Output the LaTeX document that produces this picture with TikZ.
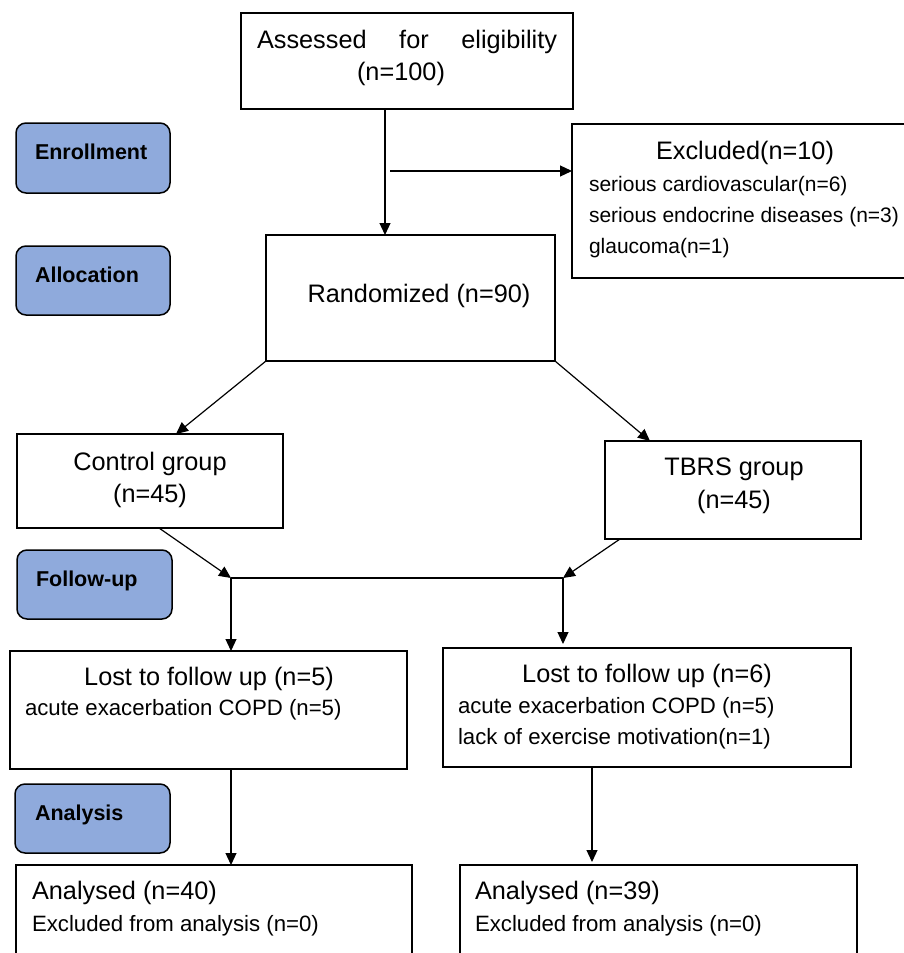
\documentclass[tikz,border=0pt]{standalone}
\usepackage{fontspec}
\setmainfont{Liberation Sans}
\usetikzlibrary{arrows.meta}
\definecolor{phaseblue}{RGB}{143,170,220}
\newcommand\ftitle{\fontsize{25.3}{30}\selectfont}
\newcommand\fsub{\fontsize{22.2}{27}\selectfont}
\newcommand\fexcl{\fontsize{21}{25}\selectfont}
\newcommand\fphase{\fontsize{21.5}{25}\selectfont\bfseries}
\tikzset{
  box/.style={draw=black, line width=1.5pt, fill=white, inner sep=0pt, outer sep=0pt, anchor=north west},
  phase/.style={draw=black, line width=1.5pt, fill=phaseblue, rounded corners=10pt, inner sep=0pt, outer sep=0pt, anchor=north west},
  txt/.style={inner sep=0pt, outer sep=0pt},
  arr/.style={line width=1.2pt, -{Triangle[length=12pt,width=11pt]}},
  ln/.style={line width=1.2pt}
}
\begin{document}
\begin{tikzpicture}[x=1pt,y=-1pt]
\useasboundingbox (0,0) rectangle (903,953);
% phase boxes
\node[phase, minimum width=154pt, minimum height=70pt] (enr) at (16,123) {};
\node[phase, minimum width=154pt, minimum height=69pt] (alloc) at (16,246) {};
\node[phase, minimum width=155pt, minimum height=69pt] (foll) at (17,550) {};
\node[phase, minimum width=155pt, minimum height=69pt] (anal) at (15,784) {};
\node[txt, anchor=base west] (enrt) at (35,159) {\fphase Enrollment};
\node[txt, anchor=base west] (alloct) at (35,282) {\fphase Allocation};
\node[txt, anchor=base west] (follt) at (36,586) {\fphase Follow-up};
\node[txt, anchor=base west] (analt) at (35,820) {\fphase Analysis};
% main boxes
\node[box, minimum width=332pt, minimum height=96pt] (assess) at (241,13) {};
\node[box, minimum width=345pt, minimum height=154pt] (excl) at (572,124) {};
\node[box, minimum width=289pt, minimum height=126pt] (rand) at (266,235) {};
\node[box, minimum width=266pt, minimum height=94pt] (ctrl) at (17,434) {};
\node[box, minimum width=256pt, minimum height=98pt] (tbrs) at (605,441) {};
\node[box, minimum width=397pt, minimum height=118pt] (lostl) at (10,651) {};
\node[box, minimum width=408pt, minimum height=119pt] (lostr) at (443,648) {};
\node[box, minimum width=396pt, minimum height=110pt] (anall) at (16,865) {};
\node[box, minimum width=397pt, minimum height=110pt] (analr) at (460,865) {};
% texts
\node[txt, anchor=base west] (assesst1) at (257,48) {\ftitle\makebox[300pt][s]{Assessed\hfill for\hfill eligibility}};
\node[txt, anchor=base] (assesst2) at (401,80) {\ftitle (n=100)};
\node[txt, anchor=base] (exclt) at (745,159) {\ftitle Excluded(n=10)};
\node[txt, anchor=base west] (exclt1) at (589,191) {\fexcl serious cardiovascular(n=6)};
\node[txt, anchor=base west] (exclt2) at (589,222) {\fexcl serious endocrine diseases (n=3)};
\node[txt, anchor=base west] (exclt3) at (589,253) {\fexcl glaucoma(n=1)};
\node[txt, anchor=base] (randt) at (419,302) {\ftitle Randomized (n=90)};
\node[txt, anchor=base] (ctrlt1) at (150,470) {\ftitle Control group};
\node[txt, anchor=base] (ctrlt2) at (150,502) {\ftitle (n=45)};
\node[txt, anchor=base] (tbrst1) at (734,475) {\ftitle TBRS group};
\node[txt, anchor=base] (tbrst2) at (734,508) {\ftitle (n=45)};
\node[txt, anchor=base] (lostlt) at (209,685) {\ftitle Lost to follow up (n=5)};
\node[txt, anchor=base west] (lostlt1) at (25,715) {\fsub acute exacerbation COPD (n=5)};
\node[txt, anchor=base] (lostrt) at (647,682) {\ftitle Lost to follow up (n=6)};
\node[txt, anchor=base west] (lostrt1) at (458,713) {\fsub acute exacerbation COPD (n=5)};
\node[txt, anchor=base west] (lostrt2) at (458,744) {\fsub lack of exercise motivation(n=1)};
\node[txt, anchor=base west] (anallt1) at (32,899) {\ftitle Analysed (n=40)};
\node[txt, anchor=base west] (anallt2) at (32,931) {\fsub Excluded from analysis (n=0)};
\node[txt, anchor=base west] (analrt1) at (475,899) {\ftitle Analysed (n=39)};
\node[txt, anchor=base west] (analrt2) at (475,931) {\fsub Excluded from analysis (n=0)};
% connectors
\coordinate (exstart) at (390,171);
\coordinate (hubl) at (231,578);
\coordinate (hubr) at (563,578);
\draw[arr] (assess.south -| 385,0) -- (rand.north -| 385,0);
\draw[arr] (exstart) -- (excl.west |- exstart);
\draw[arr] (rand.south west) -- (ctrl.north -| 176,0);
\draw[arr] (rand.south east) -- (tbrs.north -| 650,0);
\draw[arr] (ctrl.south -| 159,0) -- (hubl);
\draw[arr] (tbrs.south -| 620,0) -- (hubr);
\draw[ln] (hubl) -- (hubr);
\draw[arr] (hubl) -- (lostl.north -| hubl);
\draw[arr, shorten >=4pt] (hubr) -- (lostr.north -| hubr);
\draw[arr] (lostl.south -| 231,0) -- (anall.north -| 231,0);
\draw[arr, shorten >=3pt] (lostr.south -| 592,0) -- (analr.north -| 592,0);
\end{tikzpicture}
\end{document}
